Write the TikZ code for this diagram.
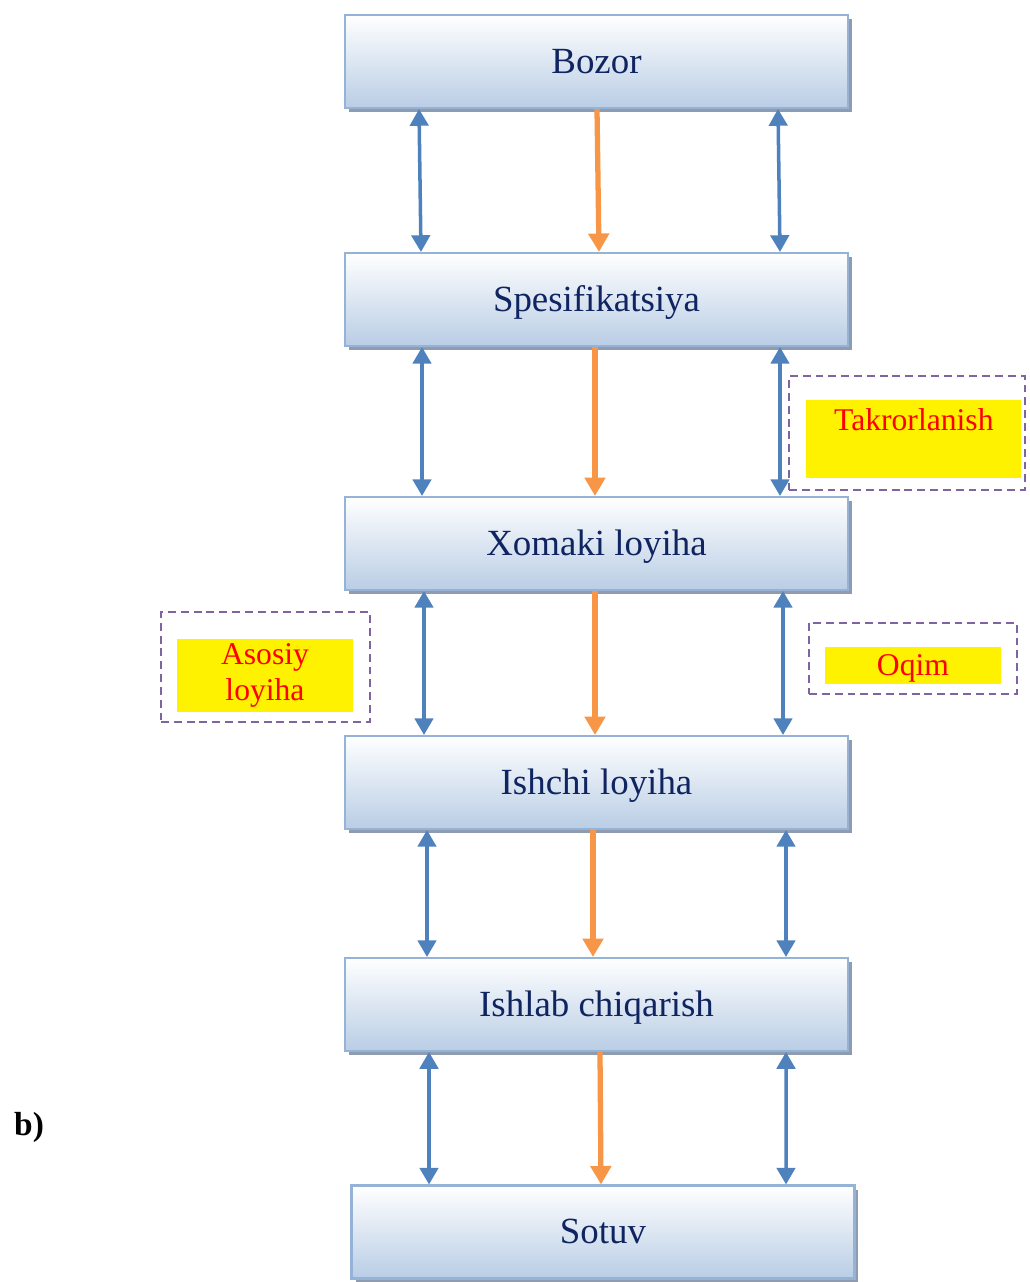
\documentclass[tikz,border=0pt]{standalone}
\usepackage{fontspec}
\setmainfont{Liberation Serif}
\usetikzlibrary{arrows.meta,shadows,calc}

\definecolor{boxline}{RGB}{149,179,215}
\definecolor{boxfill}{RGB}{185,205,229}
\definecolor{boxshadow}{RGB}{143,156,176}
\definecolor{boxtext}{RGB}{15,36,96}
\definecolor{arrowblue}{RGB}{79,129,189}
\definecolor{arroworange}{RGB}{247,150,70}
\definecolor{framepurple}{RGB}{128,100,162}

\begin{document}
\begin{tikzpicture}[x=0.02cm,y=-0.02cm,
  stagebox/.style={rectangle,draw=boxline,line width=1.2pt,top color=white,bottom color=boxfill,
    minimum width=10.06cm,minimum height=1.86cm,text=boxtext,font=\fontsize{21}{25}\selectfont,
    text height=14.2pt,text depth=0.8pt,
    drop shadow={shadow xshift=0.08cm,shadow yshift=-0.08cm,fill=boxshadow,opacity=1}},
  twoway/.style={draw=arrowblue,line width=2pt,{Triangle[width=10.5pt,length=9.5pt]}-{Triangle[width=10.5pt,length=9.5pt]}},
  flow/.style={draw=arroworange,line width=3pt,-{Triangle[width=11.5pt,length=10.5pt]}},
  note/.style={rectangle,fill=yellow,text=red,inner sep=0pt,font=\fontsize{18}{20.5}\selectfont},
  frame/.style={rectangle,draw=framepurple,line width=1.1pt,dash pattern=on 4.5pt off 2.8pt}]

  \useasboundingbox (0,0) rectangle (1030,1282);

  % stages
  \node[stagebox] (bozor) at (596.5,61.5) {Bozor};
  \node[stagebox] (spes) at (596.5,299.5) {Spesifikatsiya};
  \node[stagebox] (xomaki) at (596.5,543.5) {Xomaki loyiha};
  \node[stagebox] (ishchi) at (596.5,782.5) {Ishchi loyiha};
  \node[stagebox] (ishlab) at (596.5,1004.5) {Ishlab chiqarish};
  \node[stagebox] (sotuv) at (603,1232) {Sotuv};

  % arrows between stages
  \foreach \a/\b/\lt/\lb/\ot/\ob/\rt/\rb in {
      bozor/spes/-177.5/-175.5/0.5/2.5/181.5/183.5,
      spes/xomaki/-174.5/-174.5/-1.5/-1.5/183.5/183.5,
      xomaki/ishchi/-172.5/-172.5/-1.5/-1.5/186.5/186.5,
      ishchi/ishlab/-169.5/-169.5/-3.5/-3.5/189.5/189.5,
      ishlab/sotuv/-167.5/-174/3.5/-2/189.5/183}
    {\draw[twoway] ($(\a.south)+(\lt,0)$) -- ($(\b.north)+(\lb,0)$);
     \draw[flow] ($(\a.south)+(\ot,0)$) -- ($(\b.north)+(\ob,0)$);
     \draw[twoway] ($(\a.south)+(\rt,0)$) -- ($(\b.north)+(\rb,0)$);}

  % notes
  \node[frame,minimum width=4.72cm,minimum height=2.28cm] (takrorframe) at (907,433) {};
  \node[note,minimum width=4.3cm,text height=0.6cm,text depth=0.96cm,anchor=north west] (takror) at (806,400) {Takrorlanish};

  \node[frame,minimum width=4.18cm,minimum height=2.2cm] (asosiyframe) at (265.5,667) {};
  \node[note,align=center,minimum width=3.52cm,minimum height=1.46cm] (asosiy) at (265,675) {Asosiy\\loyiha};

  \node[frame,minimum width=4.16cm,minimum height=1.42cm] (oqimframe) at (913,658.5) {};
  \node[note,minimum width=3.52cm,minimum height=0.74cm,text height=12.2pt,text depth=0.7pt] (oqim) at (913,665.5) {Oqim};

  \node[font=\bfseries\fontsize{19}{22}\selectfont,anchor=west] (bmark) at (8,1127) {b)};
\end{tikzpicture}
\end{document}
